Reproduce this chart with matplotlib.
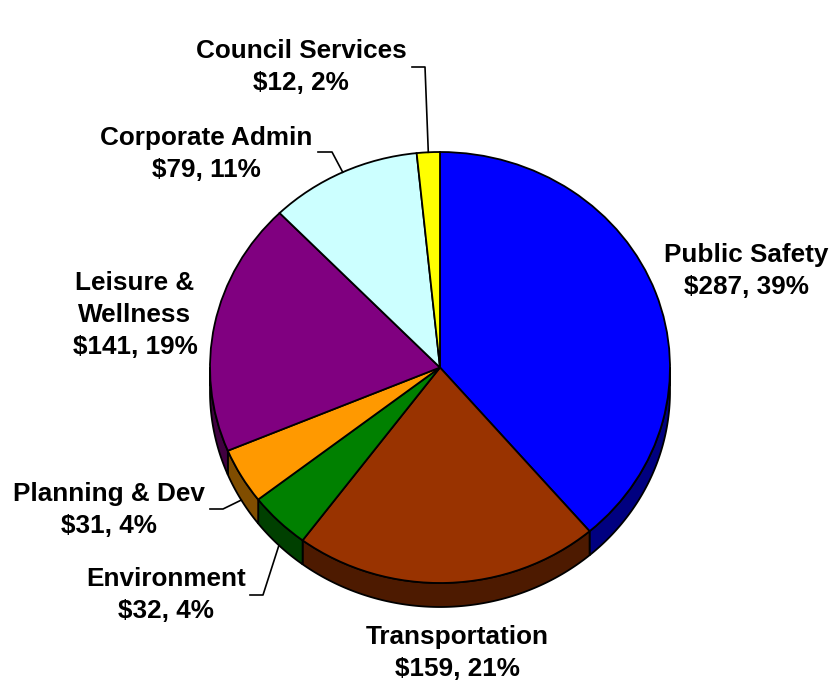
import numpy as np
import matplotlib.pyplot as plt

plt.rcParams['font.family'] = 'Liberation Sans'
plt.rcParams['font.weight'] = 'bold'

# Operating budget by department ($ millions)
departments = ['Public Safety', 'Transportation', 'Environment',
               'Planning & Dev', 'Leisure &\nWellness', 'Corporate Admin',
               'Council Services']
amounts = [287, 159, 32, 31, 141, 79, 12]
top_colors = ['#0000FF', '#993300', '#008000', '#FF9900', '#800080',
              '#CCFFFF', '#FFFF00']
side_colors = ['#000080', '#4D1A00', '#004000', '#804D00', '#400040',
               '#668080', '#808000']

# Label centres in pixels, and leader elbows (x start, x end, y) where used
label_pos = [(746, 271), (457, 653), (166, 595), (109, 510), (135, 315),
             (206, 154), (301, 67)]
leaders = {2: (250, 263, 595), 3: (210, 223, 509), 5: (318, 332, 152),
           6: (412, 425, 67)}

W, H = 831, 685
CX, CY = 440, 367.5     # pie centre (px)
RX, RY = 230, 215.5     # ellipse radii (px)
DEPTH = 24              # thickness of the pie (px)


def to_data(x, y):
    """Pixel position -> data coordinates of the unit pie."""
    return (x - CX) / RX, (CY - y) / RY


fig = plt.figure(figsize=(W / 100, H / 100), dpi=100)
ax = fig.add_axes([0, 0, 1, 1])

wedges, _ = ax.pie(amounts, colors=top_colors, startangle=90,
                   counterclock=False,
                   wedgeprops=dict(edgecolor='black', linewidth=1.3,
                                   zorder=3))
ax.set_aspect('auto')
x0, y0 = to_data(0, H)
x1, y1 = to_data(W, 0)
ax.set_xlim(x0, x1)
ax.set_ylim(y0, y1)
ax.axis('off')

# Side walls, visible on the front half only
depth = DEPTH / RY
for w, c in zip(wedges, side_colors):
    for k in (-360, 0, 360):
        a = max(w.theta1 + k, -180)
        b = min(w.theta2 + k, 0)
        if b <= a:
            continue
        t = np.radians(np.linspace(a, b, 120))
        xs = np.concatenate([np.cos(t), np.cos(t[::-1])])
        ys = np.concatenate([np.sin(t), np.sin(t[::-1]) - depth])
        ax.fill(xs, ys, facecolor=c, edgecolor='black', linewidth=1.3,
                zorder=1)

total = sum(amounts)
for i, (name, amt, w) in enumerate(zip(departments, amounts, wedges)):
    pct = round(100 * amt / total)
    tx, ty = to_data(*label_pos[i])
    ax.text(tx, ty, f'{name}\n${amt}, {pct}%', ha='center', va='center',
            multialignment='center', fontsize=18.8, linespacing=1.4,
            zorder=5)
    if i in leaders:
        xa, xb, yl = leaders[i]
        mid = np.radians(0.5 * (w.theta1 + w.theta2))
        ex, ey = np.cos(mid), np.sin(mid)
        if ey < 0:
            ey -= depth
        pa = to_data(xa, yl)
        pb = to_data(xb, yl)
        ax.plot([pa[0], pb[0], ex], [pa[1], pb[1], ey], color='black',
                linewidth=1.2, zorder=4)

fig.savefig('out.png', dpi=100, facecolor='white')
